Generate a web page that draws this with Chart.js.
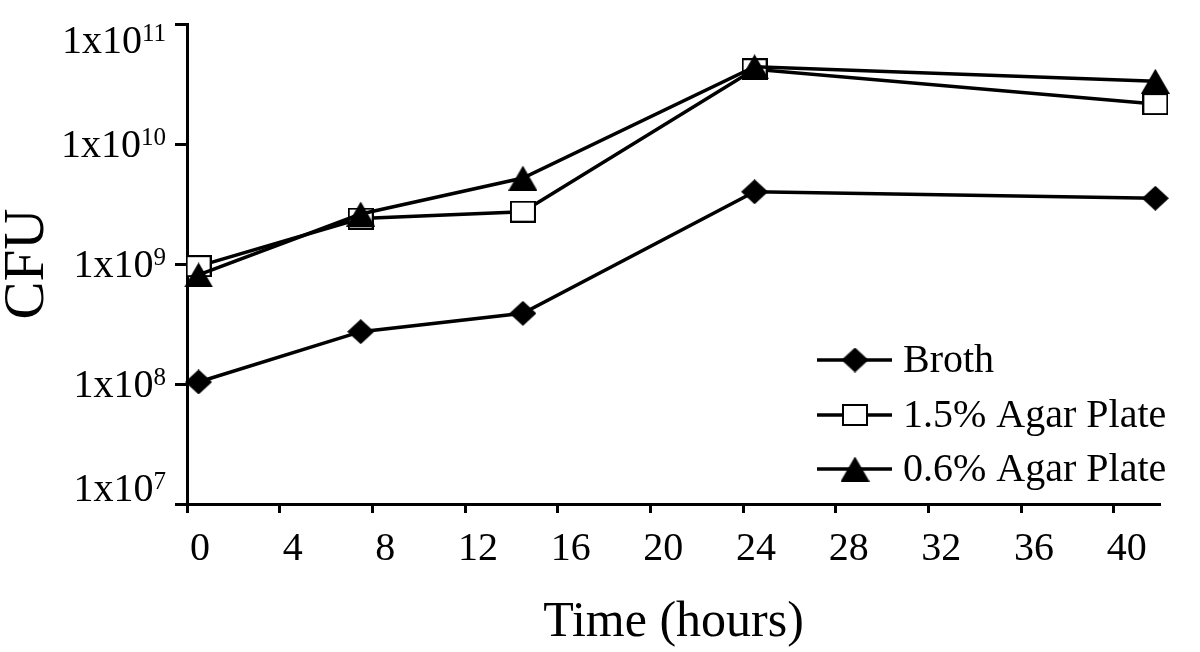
<!DOCTYPE html>
<html>
<head>
<meta charset="utf-8">
<script src="https://cdn.jsdelivr.net/npm/chart.js@4.4.1/dist/chart.umd.min.js"></script>
<style>
  html, body { margin: 0; padding: 0; background: #ffffff; }
  #wrap { width: 1200px; height: 652px; position: relative; }
</style>
</head>
<body>
<div id="wrap"><canvas id="c"></canvas></div>
<script>
// ---- data ----
const seriesNames = ['Broth', '1.5% Agar Plate', '0.6% Agar Plate'];
const timeHours = [0, 7, 14, 24, 41.3];
const brothCFU = [1.04e8, 2.73e8, 3.88e8, 4.0e9, 3.53e9];
const agar15CFU = [9.6e8, 2.39e9, 2.73e9, 4.2e10, 2.15e10];
const agar06CFU = [8.1e8, 2.61e9, 5.2e9, 4.4e10, 3.33e10];
const xTickLabels = [0, 4, 8, 12, 16, 20, 24, 28, 32, 36, 40];
const yTickValues = [1e7, 1e8, 1e9, 1e10, 1e11];
const yTickMantissa = '1x10';
const yTickExponents = ['7', '8', '9', '10', '11'];
const xTitle = 'Time (hours)';
const yTitle = 'CFU';

// ---- styling ----
const FONT = '"Liberation Serif", "Times New Roman", serif';
const X_SHIFT = -0.5; // tick marks sit half a unit left of their labels in the original

function makeMarker(kind) {
  const c = document.createElement('canvas');
  let w, h;
  if (kind === 'diamond') { w = 27; h = 25; }
  else if (kind === 'square') { w = 26; h = 22; }
  else { w = 29; h = 25; }
  c.width = w; c.height = h;
  const g = c.getContext('2d');
  g.fillStyle = '#000'; g.strokeStyle = '#000'; g.lineWidth = 2;
  g.beginPath();
  if (kind === 'diamond') {
    g.moveTo(w / 2, 0); g.lineTo(w, h / 2); g.lineTo(w / 2, h); g.lineTo(0, h / 2); g.closePath(); g.fill();
  } else if (kind === 'square') {
    g.fillStyle = '#fff'; g.rect(1, 1, w - 2, h - 2); g.fill(); g.stroke();
  } else {
    g.moveTo(w / 2, 0); g.lineTo(w, h); g.lineTo(0, h); g.closePath(); g.fill();
  }
  return c;
}
const markers = [makeMarker('diamond'), makeMarker('square'), makeMarker('triangle')];

function toPoints(ys) { return timeHours.map((t, i) => ({ x: t, y: ys[i] })); }

const yLabelPlugin = {
  id: 'yLabels',
  afterDraw(chart) {
    const s = chart.scales.y;
    const ctx = chart.ctx;
    ctx.save();
    ctx.fillStyle = '#000';
    ctx.textBaseline = 'alphabetic';
    ctx.textAlign = 'right';
    const right = s.right - 21;
    const half = 16;
    yTickValues.forEach((v, i) => {
      let y = s.getPixelForValue(v);
      y = Math.min(Math.max(y, s.top + half), s.bottom - half);
      ctx.font = '25px ' + FONT;
      const ew = ctx.measureText(yTickExponents[i]).width;
      ctx.fillText(yTickExponents[i], right, y + 1);
      ctx.font = '40px ' + FONT;
      ctx.fillText(yTickMantissa, right - ew, y + 13);
    });
    ctx.restore();
  }
};

const legendPlugin = {
  id: 'innerLegend',
  afterDatasetsDraw(chart) {
    const ca = chart.chartArea;
    const ctx = chart.ctx;
    const x0 = ca.right - 343;
    const rowsY = [ca.bottom - 144, ca.bottom - 89, ca.bottom - 35];
    ctx.save();
    chart.data.datasets.forEach((ds, i) => {
      const y = rowsY[i];
      ctx.strokeStyle = '#000';
      ctx.lineWidth = 3.5;
      ctx.beginPath();
      ctx.moveTo(x0, y); ctx.lineTo(x0 + 75, y); ctx.stroke();
      const m = markers[i];
      ctx.drawImage(m, x0 + 38 - m.width / 2, y - m.height / 2);
      ctx.fillStyle = '#000';
      ctx.font = '40px ' + FONT;
      ctx.textAlign = 'left';
      ctx.textBaseline = 'middle';
      ctx.fillText(ds.label, x0 + 86, y + 1);
    });
    ctx.restore();
  }
};

const seriesValues = [brothCFU, agar15CFU, agar06CFU];
const datasets = seriesNames.map((name, i) => ({
  label: name,
  data: toPoints(seriesValues[i]),
  borderColor: '#000',
  backgroundColor: '#000',
  borderWidth: 3.5,
  pointStyle: markers[i],
  pointRadius: 13,
  pointHoverRadius: 13,
  tension: 0,
  clip: false,
  order: 2 - i
}));

new Chart(document.getElementById('c'), {
  type: 'line',
  data: { datasets },
  plugins: [yLabelPlugin, legendPlugin],
  options: {
    responsive: true,
    maintainAspectRatio: false,
    animation: false,
    events: [],
    layout: { padding: { left: 0, right: 40, top: 24, bottom: 0 } },
    plugins: { legend: { display: false }, tooltip: { enabled: false } },
    scales: {
      x: {
        type: 'linear',
        min: X_SHIFT,
        max: 42 + X_SHIFT,
        afterBuildTicks: s => { s.ticks = xTickLabels.map(v => ({ value: v + X_SHIFT })); },
        afterFit: s => { s.height = 148; },
        grid: { drawOnChartArea: false, drawTicks: true, tickLength: 9, tickWidth: 3, tickColor: '#000' },
        border: { display: true, color: '#000', width: 3 },
        ticks: {
          color: '#000',
          font: { family: FONT, size: 40, lineHeight: 1.2 },
          padding: 12,
          labelOffset: 13,
          maxRotation: 0,
          autoSkip: false,
          callback: (v, i) => String(xTickLabels[i])
        },
        title: {
          display: true, text: xTitle, color: '#000',
          font: { family: FONT, size: 50, lineHeight: 1 },
          padding: { top: 0, bottom: 4 }
        }
      },
      y: {
        type: 'logarithmic',
        min: 1e7,
        max: 1e11,
        afterBuildTicks: s => { s.ticks = yTickValues.map(v => ({ value: v })); },
        afterFit: s => { s.width = 187; },
        grid: { drawOnChartArea: false, drawTicks: true, tickLength: 12, tickWidth: 3, tickColor: '#000' },
        border: { display: true, color: '#000', width: 3 },
        ticks: { display: false },
        title: {
          display: true, text: yTitle, color: '#000',
          font: { family: FONT, size: 57, lineHeight: 1 },
          padding: { top: 0, bottom: 0 }
        }
      }
    }
  }
});
</script>
</body>
</html>
